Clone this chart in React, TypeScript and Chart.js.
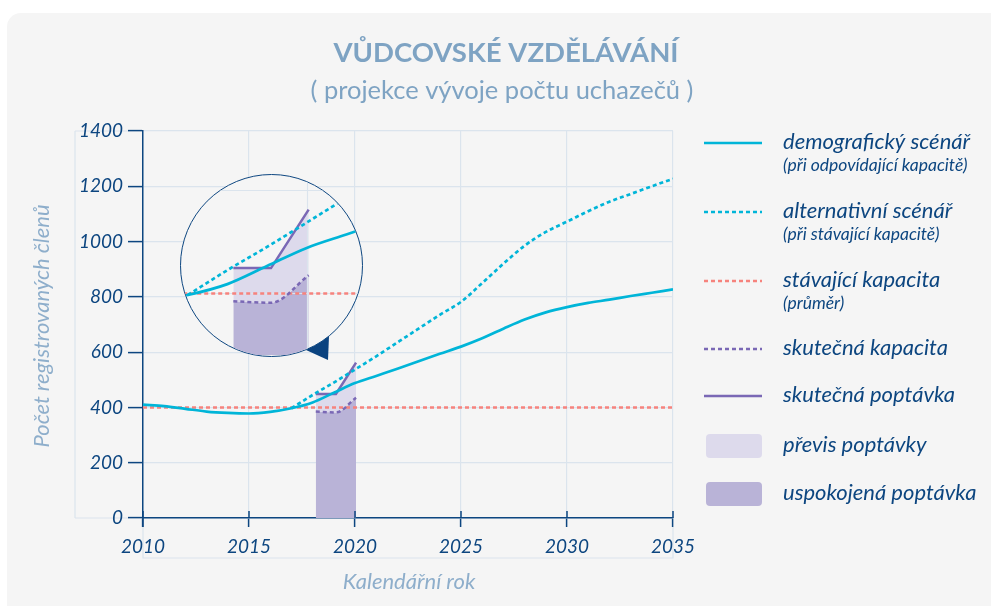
import React, { useEffect, useRef } from "react";
import { Chart, registerables } from "chart.js";
Chart.register(...registerables);

// ---------- texts ----------
const TITLE = "VŮDCOVSKÉ VZDĚLÁVÁNÍ";
const SUBTITLE = "( projekce vývoje počtu uchazečů )";
const Y_TITLE = "Počet registrovaných členů";
const X_TITLE = "Kalendářní rok";

// ---------- data ----------
const demoYears = [2010, 2011, 2012, 2013, 2014, 2015, 2016, 2017, 2018, 2019, 2020, 2021, 2022, 2023, 2024, 2025, 2026, 2027, 2028, 2029, 2030, 2031, 2032, 2033, 2034, 2035];
const demographic = [410, 405, 395, 385, 380, 378, 384, 397, 418, 453, 488, 514, 540, 567, 594, 620, 650, 685, 718, 744, 763, 778, 790, 803, 815, 827];

const altYears = [2017, 2018, 2019, 2020, 2021, 2022, 2023, 2024, 2025, 2026, 2027, 2028, 2029, 2030, 2031, 2032, 2033, 2034, 2035];
const alternative = [397, 445, 490, 537, 585, 635, 685, 735, 782, 850, 920, 985, 1035, 1072, 1110, 1144, 1172, 1200, 1227];

const capYears = [2010, 2035];
const currentCapacity = [400, 400];

const actualYears = [2018.15, 2019.1, 2020.05];
const actualCapacity = [385, 382, 435];
const actualDemand = [449, 449, 562];

const xTickValues = [2010, 2015, 2020, 2025, 2030, 2035];
const yTickValues = [0, 200, 400, 600, 800, 1000, 1200, 1400];

const legendItems = [
  { kind: "solid", color: "#00b5d8", label: "demografický scénář", sub: "(při odpovídající kapacitě)" },
  { kind: "dash", color: "#00b5d8", label: "alternativní scénář", sub: "(při stávající kapacitě)" },
  { kind: "dash", color: "#f6837d", label: "stávající kapacita", sub: "(průměr)" },
  { kind: "dash", color: "#7a68b5", label: "skutečná kapacita", sub: "" },
  { kind: "solid", color: "#7a68b5", label: "skutečná poptávka", sub: "" },
  { kind: "box", color: "#dddaec", label: "převis poptávky", sub: "" },
  { kind: "box", color: "#b9b3d7", label: "uspokojená poptávka", sub: "" },
];

// ---------- styles ----------
const C_CYAN = "#00b5d8";
const C_SALMON = "#f6837d";
const C_PURPLE = "#7a68b5";
const C_LAV_LIGHT = "#dddaec";
const C_LAV_DARK = "#b9b3d7";
const C_NAVY = "#0d4680";
const C_GRID = "#dbe4ed";
const C_TITLE = "#7ea3c3";
const C_AXTITLE = "#8eaecb";
const BG = "#f5f5f5";
const FONT = "Lato, 'Open Sans', sans-serif";
const DASH = [4, 3];

const pts = (xs: number[], ys: number[]) => xs.map((x, i) => ({ x, y: ys[i] }));

function makeDatasets() {
  return [
    {
      label: "demografický scénář",
      data: pts(demoYears, demographic),
      borderColor: C_CYAN,
      borderWidth: 2.7,
      cubicInterpolationMode: "monotone",
      fill: false,
    },
    {
      label: "alternativní scénář",
      data: pts(altYears, alternative),
      borderColor: C_CYAN,
      borderWidth: 2.7,
      borderDash: DASH,
      cubicInterpolationMode: "monotone",
      fill: false,
    },
    {
      label: "skutečná poptávka",
      data: pts(actualYears, actualDemand),
      borderColor: C_PURPLE,
      borderWidth: 2.5,
      tension: 0,
      fill: { target: 3 },
      backgroundColor: C_LAV_LIGHT,
    },
    {
      label: "skutečná kapacita",
      data: pts(actualYears, actualCapacity),
      borderColor: C_PURPLE,
      borderWidth: 2.5,
      borderDash: DASH,
      cubicInterpolationMode: "monotone",
      fill: "origin",
      backgroundColor: C_LAV_DARK,
    },
    {
      label: "stávající kapacita",
      data: pts(capYears, currentCapacity),
      borderColor: C_SALMON,
      borderWidth: 2.5,
      borderDash: DASH,
      fill: false,
    },
  ];
}

const decorPlugin = {
  id: "decor",
  beforeDraw(chart: any) {
    const ctx = chart.ctx;
    const { left, right, top, bottom } = chart.chartArea;
    ctx.save();
    // light frames
    ctx.strokeStyle = C_GRID;
    ctx.lineWidth = 1.2;
    ctx.beginPath();
    ctx.moveTo(75, top);
    ctx.lineTo(75, bottom);
    ctx.moveTo(75, top);
    ctx.lineTo(left - 14, top);
    ctx.moveTo(75, bottom);
    ctx.lineTo(left - 14, bottom);
    ctx.moveTo(left, bottom + 9);
    ctx.lineTo(left, 558);
    ctx.lineTo(right, 558);
    ctx.lineTo(right, bottom + 9);
    ctx.stroke();
    ctx.restore();
  },
  afterDraw(chart: any) {
    const ctx = chart.ctx;
    const { left, bottom } = chart.chartArea;
    const xs = chart.scales.x;
    ctx.save();
    // tick marks above x axis
    ctx.strokeStyle = C_NAVY;
    ctx.lineWidth = 1.5;
    ctx.beginPath();
    xTickValues.forEach((v) => {
      const px = xs.getPixelForValue(v);
      ctx.moveTo(px, bottom - 7);
      ctx.lineTo(px, bottom);
    });
    // y axis extension below zero
    ctx.moveTo(left, bottom);
    ctx.lineTo(left, bottom + 9);
    ctx.stroke();

    // titles
    ctx.fillStyle = C_TITLE;
    ctx.textAlign = "center";
    ctx.textBaseline = "middle";
    ctx.font = `bold 27.5px ${FONT}`;
    ctx.fillText(TITLE, 506, 53);
    ctx.font = `25.5px ${FONT}`;
    ctx.fillText(SUBTITLE, 502, 91);

    // axis titles
    ctx.fillStyle = C_AXTITLE;
    ctx.font = `italic 22px ${FONT}`;
    ctx.fillText(X_TITLE, 409, 582);
    ctx.save();
    ctx.translate(42, 326);
    ctx.rotate(-Math.PI / 2);
    ctx.fillText(Y_TITLE, 0, 0);
    ctx.restore();

    // legend
    const rows = [143, 212, 281, 349, 396, 446, 494];
    const lx0 = 704;
    const lx1 = 762;
    const tx = 783;
    legendItems.forEach((it, i) => {
      const y = rows[i];
      ctx.save();
      if (it.kind === "box") {
        ctx.fillStyle = it.color;
        const h = 24;
        const r = 4;
        const x = lx0 + 2;
        const w = lx1 - lx0 - 2;
        const yy = y - h / 2;
        ctx.beginPath();
        ctx.moveTo(x + r, yy);
        ctx.lineTo(x + w - r, yy);
        ctx.quadraticCurveTo(x + w, yy, x + w, yy + r);
        ctx.lineTo(x + w, yy + h - r);
        ctx.quadraticCurveTo(x + w, yy + h, x + w - r, yy + h);
        ctx.lineTo(x + r, yy + h);
        ctx.quadraticCurveTo(x, yy + h, x, yy + h - r);
        ctx.lineTo(x, yy + r);
        ctx.quadraticCurveTo(x, yy, x + r, yy);
        ctx.fill();
      } else {
        ctx.strokeStyle = it.color;
        ctx.lineWidth = 2.7;
        if (it.kind === "dash") ctx.setLineDash(DASH);
        ctx.beginPath();
        ctx.moveTo(lx0, y);
        ctx.lineTo(lx1, y);
        ctx.stroke();
      }
      ctx.restore();
      ctx.fillStyle = C_NAVY;
      ctx.textAlign = "left";
      ctx.textBaseline = "middle";
      ctx.font = `italic 22px ${FONT}`;
      ctx.fillText(it.label, tx, y - 1);
      if (it.sub) {
        ctx.font = `italic 17.5px ${FONT}`;
        ctx.fillText(it.sub, tx, y + 22);
      }
    });

    // magnifier pointer triangle
    ctx.fillStyle = "#0b4380";
    ctx.beginPath();
    ctx.moveTo(306, 350);
    ctx.lineTo(329, 336);
    ctx.lineTo(328, 360);
    ctx.closePath();
    ctx.fill();
    ctx.restore();
  },
};

const magGridPlugin = {
  id: "magGrid",
  beforeDatasetsDraw(chart: any) {
    const ctx = chart.ctx;
    const { left, right, top, bottom } = chart.chartArea;
    const xs = chart.scales.x;
    const ys = chart.scales.y;
    ctx.save();
    ctx.strokeStyle = C_GRID;
    ctx.lineWidth = 1.2;
    ctx.beginPath();
    [2020].forEach((v) => {
      const px = Math.round(xs.getPixelForValue(v)) + 0.5;
      ctx.moveTo(px, top);
      ctx.lineTo(px, bottom);
    });
    [400, 600].forEach((v) => {
      const py = Math.round(ys.getPixelForValue(v)) + 0.5;
      ctx.moveTo(left, py);
      ctx.lineTo(right, py);
    });
    ctx.stroke();
    ctx.restore();
  },
};

export default function App() {
  const mainRef = useRef<HTMLCanvasElement>(null);
  const magRef = useRef<HTMLCanvasElement>(null);

  useEffect(() => {
    document.body.style.margin = "0";
    const main = new Chart(mainRef.current as HTMLCanvasElement, {
      type: "line",
      data: { datasets: makeDatasets() as any },
      plugins: [decorPlugin],
      options: {
        animation: false,
        responsive: false,
        maintainAspectRatio: false,
        layout: { padding: { left: 0, top: 131, right: 318, bottom: 0 } },
        elements: { point: { radius: 0 } },
        plugins: {
          legend: { display: false },
          tooltip: { enabled: false },
          filler: { drawTime: "beforeDatasetsDraw" },
        } as any,
        scales: {
          x: {
            type: "linear",
            min: 2010,
            max: 2035,
            afterFit: (s: any) => {
              s.height = 88;
            },
            afterBuildTicks: (s: any) => {
              s.ticks = xTickValues.map((v) => ({ value: v }));
            },
            grid: { color: C_GRID, lineWidth: 1.2, tickColor: C_NAVY, tickLength: 9, tickWidth: 1.5 },
            border: { color: C_NAVY, width: 1.5 },
            ticks: {
              color: C_NAVY,
              font: { family: FONT, size: 19, style: "italic" },
              padding: 8,
              maxRotation: 0,
              autoSkip: false,
              callback: (v: any) => String(v),
            },
          },
          y: {
            type: "linear",
            min: 0,
            max: 1400,
            afterFit: (s: any) => {
              s.width = 143;
            },
            afterBuildTicks: (s: any) => {
              s.ticks = yTickValues.map((v) => ({ value: v }));
            },
            grid: { color: C_GRID, lineWidth: 1.2, tickColor: C_NAVY, tickLength: 15, tickWidth: 1.5 },
            border: { color: C_NAVY, width: 1.5 },
            ticks: {
              color: C_NAVY,
              font: { family: FONT, size: 19, style: "italic" },
              padding: 5,
              callback: (v: any) => String(v),
            },
          },
        } as any,
      },
    });

    const mag = new Chart(magRef.current as HTMLCanvasElement, {
      type: "line",
      data: { datasets: makeDatasets() as any },
      plugins: [magGridPlugin],
      options: {
        animation: false,
        responsive: false,
        maintainAspectRatio: false,
        layout: { padding: 0 },
        elements: { point: { radius: 0 } },
        plugins: {
          legend: { display: false },
          tooltip: { enabled: false },
          filler: { drawTime: "beforeDatasetsDraw" },
        } as any,
        scales: {
          x: { type: "linear", min: 2016.83, max: 2021.37, display: false },
          y: { type: "linear", min: 281, max: 629, display: false },
        } as any,
      },
    });

    return () => {
      main.destroy();
      mag.destroy();
    };
  }, []);

  return (
    <div style={{ position: "relative", width: 991, height: 606, background: "#ffffff", overflow: "hidden" }}>
      <div
        style={{
          position: "absolute",
          left: 7,
          top: 13,
          width: 1010,
          height: 620,
          background: BG,
          borderRadius: 14,
        }}
      />
      <canvas
        ref={mainRef}
        width={991}
        height={606}
        style={{ position: "absolute", left: 0, top: 0, width: 991, height: 606 }}
      />
      <div
        style={{
          position: "absolute",
          left: 180,
          top: 174,
          width: 183,
          height: 183,
          boxSizing: "border-box",
          border: `1.6px solid ${C_NAVY}`,
          borderRadius: "50%",
          overflow: "hidden",
          background: BG,
        }}
      >
        <canvas ref={magRef} width={180} height={180} style={{ display: "block", width: 180, height: 180 }} />
      </div>
    </div>
  );
}
